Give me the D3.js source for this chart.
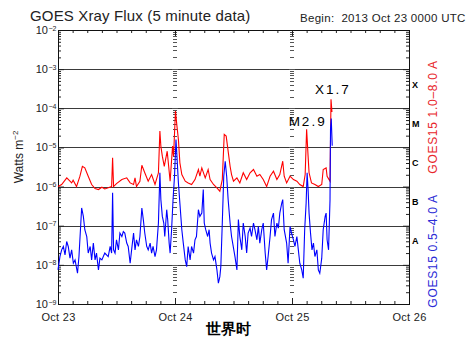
<!DOCTYPE html>
<html>
<head>
<meta charset="utf-8">
<script src="https://cdn.jsdelivr.net/npm/d3@7"></script>
<style>
  body { margin: 0; background: #fff; }
  text { font-family: "Liberation Sans", Arial, sans-serif; fill: #222; }
</style>
</head>
<body>
<svg id="chart" width="474" height="350"></svg>
<script>
// ---- data -------------------------------------------------------------
const dayLabels = ["Oct 23", "Oct 24", "Oct 25", "Oct 26"];
const decadeExponents = [-9, -8, -7, -6, -5, -4, -3, -2];
const classLetters = ["A", "B", "C", "M", "X"];        // 1e-8 .. 1e-3 bands

// GOES15 1.0-8.0 A (long channel): hours since 2013-10-23 00:00 UTC, W/m^2
const redHours = [0.0,0.75,1.8,2.8,3.1,3.8,4.5,5.0,5.5,6.2,6.9,7.6,8.3,9.0,9.6,10.3,11.0,11.2,11.4,12.0,
  13.1,14.1,14.8,15.5,15.8,16.1,16.8,17.2,17.8,18.5,19.2,19.9,20.6,20.9,21.1,21.4,21.8,22.4,22.6,23.0,
  23.5,23.7,24.1,24.4,24.7,25.0,25.4,26.1,26.7,27.4,28.1,28.8,29.1,29.5,30.2,30.8,31.2,31.9,32.6,33.2,
  33.7,34.1,34.5,34.8,35.3,35.6,36.0,36.7,37.3,38.0,38.7,39.4,40.1,40.8,41.4,42.1,42.8,43.5,44.2,44.9,
  45.5,46.1,46.4,46.9,47.6,48.3,49.0,49.6,50.3,50.7,51.0,51.3,51.5,52.0,52.7,53.4,54.1,54.4,55.0,55.2,
  55.8,56.0,56.2];
const redFlux = [1.0e-6,1.13e-6,1.67e-6,1.24e-6,1.45e-6,1.0e-6,1.84e-6,3.3e-6,3.0e-6,1.84e-6,1.13e-6,8.9e-7,8.4e-7,9.6e-7,8.7e-7,9.3e-7,1.0e-6,5.45e-6,1.0e-6,1.19e-6,
  1.51e-6,1.67e-6,1.24e-6,1.13e-6,1.67e-6,1.0e-6,1.37e-6,3.5e-6,2.25e-6,1.37e-6,2.03e-6,1.13e-6,2.25e-6,2.62e-5,1.08e-5,5.98e-6,3.3e-6,8.0e-6,4.45e-6,1.37e-6,
  1.08e-5,5.98e-6,8.5e-5,3.5e-5,1.6e-5,4.05e-6,2.03e-6,1.37e-6,1.24e-6,1.13e-6,1.51e-6,2.73e-6,1.84e-6,3.0e-6,1.67e-6,2.73e-6,1.51e-6,1.13e-6,9.3e-7,7.6e-7,
  1.51e-6,2.15e-5,1.95e-5,1.0e-5,3.3e-6,2.03e-6,1.37e-6,1.67e-6,1.24e-6,2.25e-6,1.51e-6,2.25e-6,2.73e-6,1.84e-6,2.03e-6,1.51e-6,1.0e-6,1.84e-6,2.47e-6,1.51e-6,
  2.03e-6,4.45e-6,1.84e-6,1.24e-6,1.84e-6,1.51e-6,1.37e-6,1.13e-6,1.0e-6,2.03e-6,2.9e-5,6.0e-6,2.25e-6,1.24e-6,1.13e-6,1.0e-6,1.13e-6,2.73e-6,3.0e-6,1.84e-6,
  1.37e-6,1.7e-4,8.0e-5];

// GOES15 0.5-4.0 A (short channel)
const blueHours = [0.0,0.4,0.75,1.1,1.44,1.78,2.1,2.46,2.8,3.15,3.5,4.0,4.3,4.85,5.2,5.5,5.9,6.2,6.6,6.9,
  7.25,7.6,7.9,8.3,8.6,9.0,9.6,10.3,10.7,11.0,11.2,11.4,11.7,12.0,12.4,12.7,13.1,13.4,13.7,14.1,
  14.4,14.8,15.1,15.5,15.8,16.1,16.5,16.8,17.2,17.5,17.8,18.2,18.5,18.9,19.2,19.5,19.9,20.2,20.6,20.9,
  21.1,21.4,21.7,21.9,22.3,22.5,22.8,23.0,23.3,23.6,23.9,24.2,24.4,24.7,25.0,25.4,25.7,26.1,26.4,26.7,
  27.1,27.4,27.8,28.1,28.4,28.8,29.1,29.5,29.8,30.0,30.3,30.7,31.0,31.2,31.5,31.9,32.2,32.6,32.9,33.2,
  33.4,33.7,34.0,34.3,34.6,34.9,35.3,35.6,36.3,36.7,37.0,37.3,37.7,38.0,38.4,38.7,39.0,39.4,39.7,40.1,
  40.4,40.8,41.1,41.4,41.8,42.1,42.5,42.8,43.1,43.5,43.8,44.2,44.5,44.9,45.2,45.5,45.9,46.1,46.4,46.9,
  47.2,47.6,47.9,48.3,48.6,49.0,49.3,49.6,50.0,50.3,50.6,50.9,51.1,51.3,51.5,51.8,52.1,52.4,52.7,53.1,
  53.4,53.7,54.1,54.4,54.8,55.0,55.2,55.5,55.8,55.9,56.05,56.25];
const blueFlux = [7.45e-9,1.63e-8,2.42e-8,2.95e-8,1.8e-8,3.96e-8,2.95e-8,1.48e-8,2.42e-8,1.1e-8,1.34e-8,6.1e-9,1.63e-8,2.84e-7,1.73e-7,7.9e-8,5.3e-8,2.0e-8,2.95e-8,1.34e-8,
  3.6e-8,1.34e-8,2.0e-8,7.45e-9,1.48e-8,1.34e-8,2.0e-8,1.63e-8,2.95e-8,2.0e-8,6.9e-7,2.42e-8,2.0e-8,4.37e-8,2.42e-8,6.5e-8,5.3e-8,7.1e-8,6.5e-8,3.6e-8,
  2.95e-8,1.1e-8,2.42e-8,6.5e-8,2.42e-8,4.37e-8,2.95e-8,5.3e-8,2.84e-7,1.43e-7,6.5e-8,2.95e-8,2.42e-8,3.6e-8,2.0e-8,2.95e-8,1.63e-8,2.42e-8,1.17e-7,2.25e-6,
  4.65e-7,1.73e-7,1.17e-7,5.3e-8,2.57e-7,1.43e-7,3.6e-8,2.0e-8,7.9e-8,4.65e-7,1.84e-6,1.6e-5,6.0e-6,1.24e-6,3.8e-7,7.9e-8,3.6e-8,1.34e-8,9.0e-9,2.95e-8,
  1.34e-8,2.95e-8,2.0e-8,4.37e-8,5.3e-8,2.57e-7,1.73e-7,2.1e-7,8.4e-7,1.17e-7,7.9e-8,5.3e-8,7.9e-8,3.6e-8,2.0e-8,1.34e-8,1.63e-8,7.45e-9,3.4e-9,5.0e-9,
  9.0e-9,1.17e-7,1.84e-6,4.45e-6,1.84e-6,4.65e-7,1.17e-7,5.3e-8,1.63e-8,7.45e-9,1.43e-7,5.3e-8,2.42e-8,1.17e-7,5.3e-8,2.0e-8,6.5e-8,8.7e-8,5.3e-8,1.17e-7,
  7.9e-8,4.37e-8,9.6e-8,3.6e-8,7.9e-8,1.17e-7,2.0e-8,7.45e-9,1.63e-8,5.3e-8,1.43e-7,2.1e-7,5.3e-8,1.17e-7,8.7e-8,2.1e-7,3.8e-7,4.65e-7,7.9e-8,3.6e-8,
  1.1e-8,9.6e-8,6.5e-8,4.37e-8,2.95e-8,5.3e-8,2.42e-8,1.1e-8,7.45e-9,4.55e-9,7.9e-8,3.8e-7,2.25e-6,8.4e-7,2.1e-7,6.5e-8,2.42e-8,3.6e-8,1.63e-8,2.42e-8,
  7.45e-9,6.1e-9,1.48e-8,7.9e-8,1.73e-7,2.1e-7,4.37e-8,2.42e-8,4.65e-7,2.9e-5,5.5e-5,1.1e-5];

// flare annotations: label, hour of peak, peak flux
const flareLabels = ["M2.9", "X1.7"];
const flareHours = [51.0, 56.0];
const flareFlux = [2.9e-5, 1.7e-4];

// ---- layout -------------------------------------------------------------
const L = 58, R = 409, T = 30, B = 304;
const start = Date.UTC(2013, 9, 23);
const toDate = h => new Date(start + h * 3600e3);

const svg = d3.select("#chart");
const x = d3.scaleUtc().domain([toDate(0), toDate(72)]).range([L, R]);
const y = d3.scaleLog().domain([1e-9, 1e-2]).range([B, T]);

const decades = decadeExponents.map(e => Math.pow(10, e));
const minors = [];
decadeExponents.slice(0, -1).forEach(e => {
  for (let m = 2; m <= 9; m++) minors.push(m * Math.pow(10, e));
});
const dayDates = dayLabels.map((_, i) => toDate(i * 24));
const py = v => Math.round(y(v)) + 0.5;

// horizontal class boundaries
svg.append("g").selectAll("line")
  .data(decades.slice(1, -1))
  .join("line")
  .attr("x1", L).attr("x2", R)
  .attr("y1", py).attr("y2", py)
  .attr("stroke", "#3a3a3a").attr("stroke-width", 1);

// log tick marks straddling the interior day boundaries
const inner = svg.append("g").attr("stroke", "#555").attr("stroke-width", 1);
dayDates.slice(1, -1).forEach(dd => {
  const cx = Math.round(x(dd));
  inner.append("g").selectAll("line").data(minors).join("line")
    .attr("x1", cx - 2).attr("x2", cx + 2)
    .attr("y1", py).attr("y2", py);
  inner.append("g").selectAll("line").data(decades).join("line")
    .attr("x1", cx - 3).attr("x2", cx + 3)
    .attr("y1", py).attr("y2", py);
});

// axes (ticks pointing into the plot)
function styleAxis(g) {
  g.select(".domain").remove();
  g.selectAll(".tick line").attr("stroke", "#222");
}
svg.append("g").attr("transform", `translate(0,${T})`)
  .call(d3.axisTop(x).ticks(d3.utcHour.every(3)).tickSize(-3).tickFormat(""))
  .call(styleAxis);
svg.append("g").attr("transform", `translate(0,${T})`)
  .call(d3.axisTop(x).tickValues(dayDates).tickSize(-6).tickFormat(""))
  .call(styleAxis);
svg.append("g").attr("transform", `translate(0,${B})`)
  .call(d3.axisBottom(x).ticks(d3.utcHour.every(3)).tickSize(-3).tickFormat(""))
  .call(styleAxis);
svg.append("g").attr("transform", `translate(0,${B})`)
  .call(d3.axisBottom(x).tickValues(dayDates).tickSize(-6).tickPadding(9)
    .tickFormat((d, i) => dayLabels[i]))
  .call(styleAxis)
  .call(g => g.selectAll(".tick text")
    .attr("font-family", "Liberation Sans, Arial, sans-serif")
    .attr("font-size", 11).attr("letter-spacing", 0.3).attr("fill", "#222"));

[[d3.axisLeft, L], [d3.axisRight, R]].forEach(([axisFn, px]) => {
  svg.append("g").attr("transform", `translate(${px},0)`)
    .call(axisFn(y).tickValues(minors).tickSize(-3).tickFormat(""))
    .call(styleAxis);
  svg.append("g").attr("transform", `translate(${px},0)`)
    .call(axisFn(y).tickValues(decades).tickSize(-6).tickFormat(""))
    .call(styleAxis);
});

// y tick labels 10^n
svg.append("g").selectAll("text").data(decadeExponents).join("text")
  .attr("x", 48).attr("y", d => y(Math.pow(10, d)) + 4)
  .attr("text-anchor", "end").attr("font-size", 11).text("10");
svg.append("g").selectAll("text").data(decadeExponents).join("text")
  .attr("x", 48.5).attr("y", d => y(Math.pow(10, d)) + 0.5)
  .attr("font-size", 7).text(d => "\u2212" + Math.abs(d));

// frame
svg.append("rect")
  .attr("x", L + 0.5).attr("y", T + 0.5)
  .attr("width", R - L).attr("height", B - T)
  .attr("fill", "none").attr("stroke", "#111").attr("stroke-width", 1);

// flux curves
const line = d3.line().x(d => x(toDate(d[0]))).y(d => y(d[1]));
svg.append("path").datum(d3.zip(redHours, redFlux))
  .attr("d", line).attr("fill", "none").attr("stroke", "#ff0000").attr("stroke-width", 1.1);
svg.append("path").datum(d3.zip(blueHours, blueFlux))
  .attr("d", line).attr("fill", "none").attr("stroke", "#0000ff").attr("stroke-width", 1.1);

// flare labels
const flareOffsets = [[-18, -3], [-16, -5]];
flareLabels.forEach((lab, i) => {
  svg.append("text")
    .attr("x", x(toDate(flareHours[i])) + flareOffsets[i][0])
    .attr("y", y(flareFlux[i]) + flareOffsets[i][1])
    .attr("font-family", "Liberation Serif, serif")
    .attr("font-size", 13.5).attr("letter-spacing", 2).style("fill", "#000")
    .text(lab);
});

// GOES class letters on the right
svg.append("g").selectAll("text").data(classLetters).join("text")
  .attr("x", 412)
  .attr("y", (d, i) => y(Math.sqrt(decades[i + 1] * decades[i + 2])) - 1)
  .attr("font-family", "Liberation Serif, serif").attr("font-weight", "bold")
  .attr("font-size", 9).style("fill", "#000")
  .text(d => d);

// channel labels
const channels = [
  { text: "GOES15 1.0\u20138.0 A", color: "#e8262b", cy: 117 },
  { text: "GOES15 0.5\u20134.0 A", color: "#2b2bd6", cy: 251 }
];
channels.forEach(c => {
  svg.append("text")
    .attr("transform", `translate(437,${c.cy}) rotate(-90)`)
    .attr("text-anchor", "middle")
    .attr("font-size", 12).attr("letter-spacing", 0.7).style("fill", c.color)
    .text(c.text);
});

// titles
svg.append("text").attr("x", 30).attr("y", 21).attr("font-size", 15)
  .attr("letter-spacing", 0.15).text("GOES Xray Flux (5 minute data)");
svg.append("text").attr("x", 300).attr("y", 22).attr("font-size", 11.5)
  .attr("letter-spacing", 0.3).attr("xml:space", "preserve")
  .text("Begin:  2013 Oct 23 0000 UTC");

// y axis title
const yt = svg.append("text")
  .attr("transform", "translate(23,157) rotate(-90)")
  .attr("text-anchor", "middle").attr("font-size", 12);
yt.append("tspan").text("Watts m");
yt.append("tspan").attr("dy", -5).attr("font-size", 8).text("\u22122");

// x axis title
svg.append("text")
  .attr("x", 228).attr("y", 334).attr("text-anchor", "middle")
  .attr("font-family", "Noto Sans CJK SC, sans-serif").attr("font-weight", "bold")
  .attr("font-size", 15).style("fill", "#000")
  .text("世界时");
</script>
</body>
</html>
